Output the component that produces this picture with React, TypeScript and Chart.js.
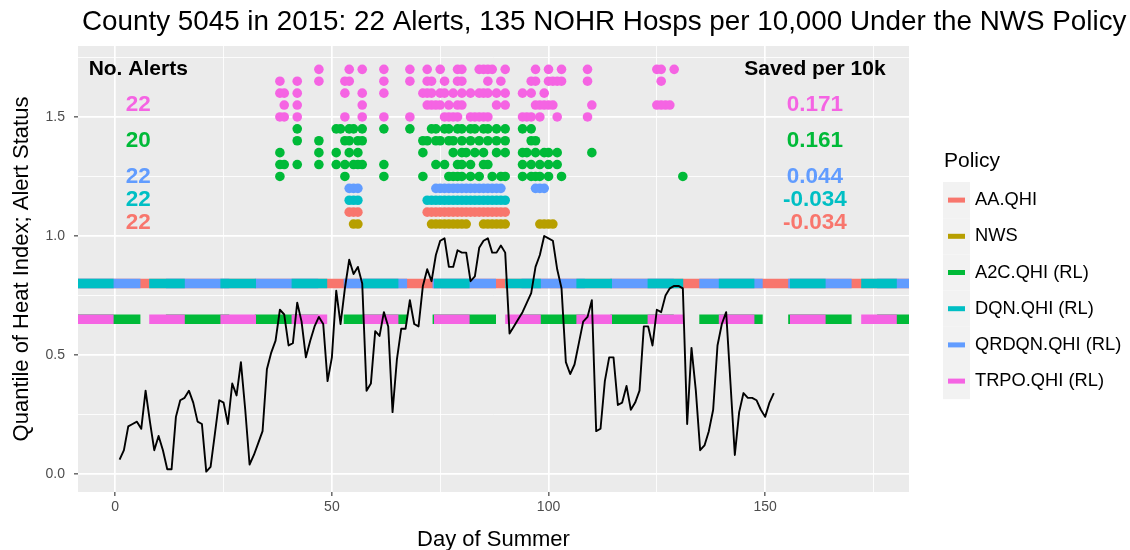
import React, { useEffect, useRef } from "react";
import { Chart, registerables } from "chart.js";

Chart.register(...registerables);

// ---------------- data ----------------
const heatQuantile = [
  0.06, 0.10, 0.20, 0.21, 0.22, 0.19, 0.35, 0.22, 0.10, 0.16,
  0.10, 0.02, 0.02, 0.24, 0.31, 0.32, 0.35, 0.30, 0.22, 0.21,
  0.01, 0.03, 0.17, 0.31, 0.30, 0.21, 0.38, 0.33, 0.47, 0.27,
  0.04, 0.08, 0.13, 0.18, 0.44, 0.51, 0.56, 0.69, 0.67, 0.54,
  0.55, 0.72, 0.64, 0.49, 0.56, 0.62, 0.66, 0.63, 0.39, 0.49,
  0.77, 0.63, 0.78, 0.90, 0.84, 0.87, 0.80, 0.35, 0.38, 0.60,
  0.58, 0.68, 0.62, 0.26, 0.48, 0.61, 0.61, 0.73, 0.63, 0.62,
  0.79, 0.86, 0.81, 0.92, 0.98, 0.99, 0.87, 0.87, 0.94, 0.93,
  0.93, 0.81, 0.83, 0.95, 0.98, 0.99, 0.93, 0.93, 0.96, 0.93,
  0.59, 0.62, 0.65, 0.68, 0.72, 0.76, 0.87, 0.92, 1.00, 0.99,
  0.98, 0.86, 0.78, 0.47, 0.42, 0.46, 0.55, 0.64, 0.66, 0.73,
  0.18, 0.19, 0.39, 0.49, 0.49, 0.29, 0.30, 0.37, 0.27, 0.30,
  0.35, 0.62, 0.62, 0.54, 0.69, 0.68, 0.75, 0.78, 0.79, 0.79,
  0.78, 0.21, 0.53, 0.35, 0.10, 0.12, 0.18, 0.27, 0.54, 0.63,
  0.68, 0.38, 0.08, 0.26, 0.34, 0.32, 0.32, 0.31, 0.27, 0.24,
  0.30, 0.34,
];
const summerDays = heatQuantile.map((_, i) => i + 1);

const policyNames = ["AA.QHI", "NWS", "A2C.QHI (RL)", "DQN.QHI (RL)", "QRDQN.QHI (RL)", "TRPO.QHI (RL)"];
const policyColors = ["#F8766D", "#B79F00", "#00BA38", "#00BFC4", "#619CFF", "#F564E3"];

// alert days per run (rows)
const trpoRowLevels = [1.7, 1.65, 1.6, 1.55, 1.5];
const trpoAlertDays = [
  [47, 54, 57, 62, 68, 72, 75, 79, 80, 84, 85, 86, 87, 90, 97, 100, 103, 109, 125, 126, 129],
  [38, 42, 47, 53, 54, 62, 68, 72, 73, 76, 79, 80, 86, 89, 96, 97, 100, 101, 102, 103, 109, 126],
  [38, 39, 42, 53, 57, 62, 71, 72, 73, 75, 76, 78, 80, 82, 84, 85, 86, 88, 90, 94, 96, 99],
  [39, 42, 57, 72, 73, 74, 75, 77, 79, 80, 88, 90, 97, 98, 99, 100, 101, 110, 125, 126, 127, 128],
  [38, 39, 42, 53, 57, 62, 68, 76, 77, 78, 79, 82, 83, 84, 85, 86, 94, 95, 96, 98, 102, 109],
];
const a2cRowLevels = [1.45, 1.4, 1.35, 1.3, 1.25];
const a2cAlertDays = [
  [42, 51, 52, 54, 55, 57, 62, 68, 73, 74, 76, 77, 79, 80, 82, 83, 85, 86, 88, 90, 94, 96],
  [42, 47, 53, 54, 56, 57, 71, 72, 74, 75, 77, 78, 80, 82, 84, 86, 88, 90, 96, 97],
  [38, 47, 51, 54, 56, 71, 78, 80, 81, 83, 85, 88, 90, 94, 95, 97, 99, 100, 102, 110],
  [38, 39, 42, 47, 51, 53, 55, 56, 57, 62, 74, 76, 79, 80, 82, 85, 86, 94, 96, 98, 100, 102],
  [38, 53, 62, 71, 77, 78, 79, 80, 82, 84, 87, 89, 90, 94, 96, 97, 98, 100, 103, 131],
];
const qrdqnRowLevel = 1.2;
const qrdqnAlertDays = [54, 55, 56, 74, 75, 76, 77, 78, 79, 80, 81, 82, 83, 84, 85, 86, 87, 88, 89, 97, 98, 99];
const dqnRowLevel = 1.15;
const dqnAlertDays = [54, 55, 56, 72, 73, 74, 75, 76, 77, 78, 79, 80, 81, 82, 83, 84, 85, 86, 87, 88, 89, 90];
const aaRowLevel = 1.1;
const aaAlertDays = [54, 55, 56, 72, 73, 74, 75, 76, 77, 78, 79, 80, 81, 82, 83, 84, 85, 86, 87, 88, 89, 90];
const nwsRowLevel = 1.05;
const nwsAlertDays = [55, 56, 73, 74, 75, 76, 77, 78, 79, 80, 81, 85, 86, 87, 88, 89, 90, 98, 99, 100, 101];

// horizontal policy threshold lines
const upperLineLevel = 0.8; // AA.QHI, QRDQN, DQN
const lowerLineLevel = 0.65; // A2C, TRPO

// annotation texts
const alertCountLabels = ["22", "20", "22", "22", "22"];
const savedLabels = ["0.171", "0.161", "0.044", "-0.034", "-0.034"];
const annotationColors = ["#F564E3", "#00BA38", "#619CFF", "#00BFC4", "#F8766D"];
const annotationLevels = [1.55, 1.4, 1.25, 1.15, 1.055];
const headerLevel = 1.7;
const leftTextDay = 5.3;
const rightTextDay = 161.5;

const xMajorTicks = [0, 50, 100, 150];
const xMinorTicks = [25, 75, 125, 175];
const yMajorTicks = [0, 0.5, 1.0, 1.5];
const yMinorTicks = [0.25, 0.75, 1.25, 1.75];

const X_MIN = -8.6;
const X_MAX = 183.2;
const Y_MIN = -0.0756;
const Y_MAX = 1.798;

const titleText = "County 5045 in 2015: 22 Alerts, 135 NOHR Hosps per 10,000 Under the NWS Policy";
const xTitle = "Day of Summer";
const yTitle = "Quantile of Heat Index; Alert Status";
const legendTitle = "Policy";
const FONT = '"Liberation Sans", Arial, Helvetica, sans-serif';

function dots(days: number[], level: number, color: string, order: number) {
  return {
    type: "scatter" as const,
    data: days.map((d) => ({ x: d, y: level })),
    backgroundColor: color,
    borderWidth: 0,
    pointRadius: 4.8,
    pointHoverRadius: 4.8,
    showLine: false,
    order,
  };
}

function hline(level: number, color: string, dash: number[], offset: number, order: number) {
  return {
    type: "scatter" as const,
    data: [
      { x: X_MIN, y: level },
      { x: X_MAX, y: level },
    ],
    showLine: true,
    borderColor: color,
    borderWidth: 9.5,
    borderDash: dash,
    borderDashOffset: offset,
    borderCapStyle: "butt" as const,
    pointRadius: 0,
    order,
  };
}

const decorPlugin = {
  id: "decor",
  beforeDraw(chart: any) {
    const { ctx, chartArea } = chart;
    ctx.save();
    ctx.fillStyle = "#FFFFFF";
    ctx.fillRect(0, 0, chart.width, chart.height);
    ctx.fillStyle = "#EBEBEB";
    ctx.fillRect(chartArea.left, chartArea.top, chartArea.right - chartArea.left, chartArea.bottom - chartArea.top);
    ctx.restore();
  },
  afterDatasetsDraw(chart: any) {
    const { ctx } = chart;
    const xs = chart.scales.x;
    const ys = chart.scales.y;
    ctx.save();
    ctx.textAlign = "center";
    ctx.textBaseline = "middle";
    ctx.fillStyle = "#000000";
    ctx.font = `bold 21px ${FONT}`;
    ctx.fillText("No. Alerts", xs.getPixelForValue(leftTextDay), ys.getPixelForValue(headerLevel));
    ctx.fillText("Saved per 10k", xs.getPixelForValue(rightTextDay), ys.getPixelForValue(headerLevel));
    ctx.font = `bold 22.5px ${FONT}`;
    alertCountLabels.forEach((t, i) => {
      ctx.fillStyle = annotationColors[i];
      ctx.fillText(t, xs.getPixelForValue(leftTextDay), ys.getPixelForValue(annotationLevels[i]));
    });
    savedLabels.forEach((t, i) => {
      ctx.fillStyle = annotationColors[i];
      ctx.fillText(t, xs.getPixelForValue(rightTextDay), ys.getPixelForValue(annotationLevels[i]));
    });
    ctx.restore();
  },
  afterDraw(chart: any) {
    const { ctx, chartArea } = chart;
    ctx.save();
    // title
    ctx.fillStyle = "#000000";
    ctx.font = `27.8px ${FONT}`;
    ctx.textAlign = "left";
    ctx.textBaseline = "alphabetic";
    ctx.fillText(titleText, 82, 30);
    // axis titles
    ctx.font = `22px ${FONT}`;
    ctx.textAlign = "center";
    ctx.fillText(xTitle, (chartArea.left + chartArea.right) / 2, 546);
    ctx.save();
    ctx.translate(28, (chartArea.top + chartArea.bottom) / 2);
    ctx.rotate(-Math.PI / 2);
    ctx.fillText(yTitle, 0, 0);
    ctx.restore();
    // legend
    ctx.textAlign = "left";
    ctx.font = `21px ${FONT}`;
    ctx.fillText(legendTitle, 944, 167);
    const keyX = 943;
    const keyTop = 182;
    const keyW = 27;
    const keyH = 36.2;
    ctx.font = `18.3px ${FONT}`;
    ctx.textBaseline = "middle";
    policyNames.forEach((name, i) => {
      const y0 = keyTop + i * keyH;
      ctx.fillStyle = "#F2F2F2";
      ctx.fillRect(keyX, y0, keyW, keyH);
      ctx.fillStyle = policyColors[i];
      ctx.fillRect(keyX + 5, y0 + keyH / 2 - 2.5, keyW - 10, 5);
      ctx.fillStyle = "#000000";
      ctx.fillText(name, 975, y0 + keyH / 2);
    });
    ctx.restore();
  },
};

export default function App() {
  const canvasRef = useRef<HTMLCanvasElement | null>(null);

  useEffect(() => {
    if (!canvasRef.current) return;
    const datasets: any[] = [];
    // dots (top)
    trpoAlertDays.forEach((days, i) => datasets.push(dots(days, trpoRowLevels[i], policyColors[5], 0)));
    a2cAlertDays.forEach((days, i) => datasets.push(dots(days, a2cRowLevels[i], policyColors[2], 0)));
    datasets.push(dots(qrdqnAlertDays, qrdqnRowLevel, policyColors[4], 0));
    datasets.push(dots(dqnAlertDays, dqnRowLevel, policyColors[3], 0));
    datasets.push(dots(aaAlertDays, aaRowLevel, policyColors[0], 0));
    datasets.push(dots(nwsAlertDays, nwsRowLevel, policyColors[1], 0));
    // heat index line
    datasets.push({
      type: "scatter",
      data: summerDays.map((d, i) => ({ x: d, y: heatQuantile[i] })),
      showLine: true,
      borderColor: "#000000",
      borderWidth: 1.9,
      pointRadius: 0,
      borderJoinStyle: "round",
      order: 1,
    });
    // threshold lines
    datasets.push(hline(lowerLineLevel, policyColors[5], [35.6, 35.6], 0, 2));
    datasets.push(hline(lowerLineLevel, policyColors[2], [63.4, 25.5], 1, 3));
    datasets.push(hline(upperLineLevel, policyColors[3], [35.6, 35.6], 0, 4));
    datasets.push(hline(upperLineLevel, policyColors[4], [63.4, 25.5], 1, 5));
    datasets.push(hline(upperLineLevel, policyColors[0], [], 0, 6));

    const isIn = (arr: number[], v: number) => arr.some((a) => Math.abs(a - v) < 1e-9);

    const chart = new Chart(canvasRef.current, {
      type: "scatter",
      data: { datasets },
      plugins: [decorPlugin],
      options: {
        responsive: false,
        devicePixelRatio: 1,
        animation: false,
        events: [],
        layout: { padding: { left: 0, top: 46, right: 221, bottom: 0 } },
        plugins: {
          legend: { display: false },
          title: { display: false },
          tooltip: { enabled: false },
        },
        scales: {
          x: {
            type: "linear",
            min: X_MIN,
            max: X_MAX,
            afterBuildTicks: (s: any) => {
              s.ticks = [...xMajorTicks, ...xMinorTicks].sort((a, b) => a - b).map((v) => ({ value: v }));
            },
            afterFit: (s: any) => {
              s.height = 58;
            },
            ticks: {
              autoSkip: false,
              maxRotation: 0,
              padding: 3,
              color: "#4D4D4D",
              font: { family: FONT, size: 14 },
              callback: (v: any) => (isIn(xMajorTicks, v) ? String(v) : ""),
            },
            grid: {
              color: "#FFFFFF",
              lineWidth: (c: any) => (c.tick && isIn(xMajorTicks, c.tick.value) ? 1.7 : 0.85),
              tickLength: 4,
              tickWidth: 1.1,
              tickColor: (c: any) => (c.tick && isIn(xMajorTicks, c.tick.value) ? "#333333" : "rgba(0,0,0,0)"),
            },
            border: { display: false },
          },
          y: {
            type: "linear",
            min: Y_MIN,
            max: Y_MAX,
            afterBuildTicks: (s: any) => {
              s.ticks = [...yMajorTicks, ...yMinorTicks].sort((a, b) => a - b).map((v) => ({ value: v }));
            },
            afterFit: (s: any) => {
              s.width = 78;
            },
            ticks: {
              autoSkip: false,
              padding: 9,
              color: "#4D4D4D",
              font: { family: FONT, size: 14 },
              callback: (v: any) => (isIn(yMajorTicks, v) ? Number(v).toFixed(1) : ""),
            },
            grid: {
              color: "#FFFFFF",
              lineWidth: (c: any) => (c.tick && isIn(yMajorTicks, c.tick.value) ? 1.7 : 0.85),
              tickLength: 4,
              tickWidth: 1.1,
              tickColor: (c: any) => (c.tick && isIn(yMajorTicks, c.tick.value) ? "#333333" : "rgba(0,0,0,0)"),
            },
            border: { display: false },
          },
        },
      } as any,
    });
    return () => chart.destroy();
  }, []);

  return (
    <div style={{ position: "absolute", left: 0, top: 0, width: 1130, height: 550, background: "#FFFFFF" }}>
      <canvas ref={canvasRef} width={1130} height={550} style={{ display: "block" }} />
    </div>
  );
}
